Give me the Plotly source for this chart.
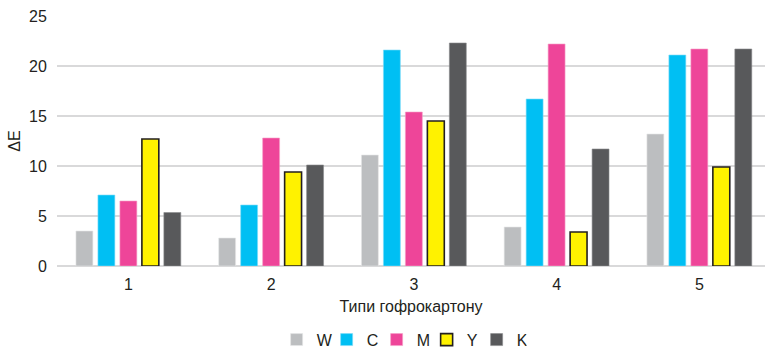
import plotly.graph_objects as go

categories = ["1", "2", "3", "4", "5"]
series_names = ["W", "C", "M", "Y", "K"]
w_values = [3.5, 2.8, 11.1, 3.9, 13.2]
c_values = [7.1, 6.1, 21.6, 16.7, 21.1]
m_values = [6.5, 12.8, 15.4, 22.2, 21.7]
y_values = [12.7, 9.4, 14.5, 3.4, 9.9]
k_values = [5.35, 10.1, 22.3, 11.7, 21.7]
y_ticks = [0, 5, 10, 15, 20, 25]

series_values = [w_values, c_values, m_values, y_values, k_values]
fill_colors = ["#bcbec0", "#00bff3", "#ee4599", "#fff200", "#58595b"]
line_colors = ["#e6e7e8", "#7fdcf8", "#f6a0c8", "#231f20", "#8a8b8d"]
line_widths = [0.6, 0.6, 0.6, 1.6, 0.6]

font_family = "Liberation Sans, Arial, sans-serif"
text_color = "#231f20"

fig = go.Figure()
for name, vals, fc, lc, lw in zip(series_names, series_values, fill_colors, line_colors, line_widths):
    fig.add_trace(go.Bar(
        name=name,
        x=list(range(len(categories))),
        y=vals,
        marker=dict(color=fc, line=dict(color=lc, width=lw)),
    ))

fig.update_layout(
    width=765,
    height=352,
    margin=dict(l=57, r=0, t=16, b=86, autoexpand=False),
    paper_bgcolor="white",
    plot_bgcolor="white",
    barmode="group",
    bargap=0.23,
    bargroupgap=0.23,
    font=dict(family=font_family, color=text_color, size=16),
    showlegend=True,
    legend=dict(
        orientation="h",
        x=0.525, xanchor="center", xref="container",
        y=0.035, yanchor="middle", yref="container",
        font=dict(size=16, color=text_color),
        itemwidth=30,
        entrywidth=5,
        tracegroupgap=0,
    ),
    xaxis=dict(
        range=[-0.5, 4.46],
        tickmode="array",
        tickvals=list(range(len(categories))),
        ticktext=categories,
        showgrid=False,
        showline=False,
        zeroline=False,
        ticks="outside",
        ticklen=4,
        tickcolor="rgba(0,0,0,0)",
        tickfont=dict(size=16),
        title=dict(text="Типи гофрокартону", font=dict(size=16), standoff=8),
    ),
    yaxis=dict(
        range=[0, 25],
        tickmode="array",
        tickvals=y_ticks,
        showgrid=True,
        gridcolor="#d9d9da",
        gridwidth=1.5,
        zeroline=True,
        zerolinecolor="#d9d9da",
        zerolinewidth=1.5,
        showline=False,
        ticks="outside",
        ticklen=6,
        tickcolor="rgba(0,0,0,0)",
        tickfont=dict(size=16),
        title=dict(text="ΔE", font=dict(size=16), standoff=4),
    ),
)

fig.write_html("out.html")
